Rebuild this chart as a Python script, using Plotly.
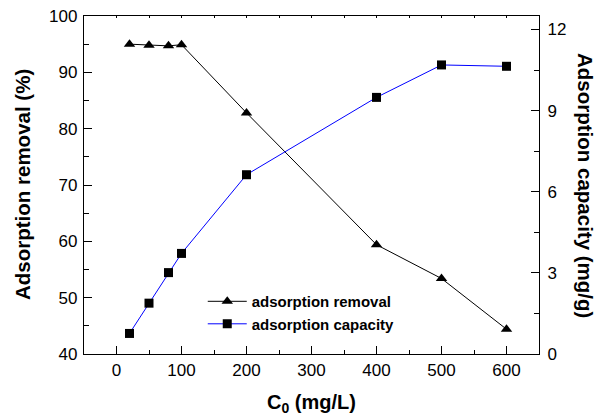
import plotly.graph_objects as go

c0 = [20, 50, 80, 100, 200, 400, 500, 600]
removal = [95.0, 94.8, 94.7, 94.9, 82.8, 59.4, 53.4, 44.4]
capacity = [0.76, 1.88, 3.01, 3.72, 6.63, 9.49, 10.69, 10.64]
x_ticks = [0, 100, 200, 300, 400, 500, 600]
y_ticks = [40, 50, 60, 70, 80, 90, 100]
y2_ticks = [0, 3, 6, 9, 12]

font = "Liberation Sans, Arial, sans-serif"

fig = go.Figure()
fig.add_trace(go.Scatter(x=c0, y=removal, name="adsorption removal", mode="lines+markers",
                         line=dict(color="black", width=1),
                         marker=dict(symbol="triangle-up", size=10, color="black")))
fig.add_trace(go.Scatter(x=c0, y=capacity, name="adsorption capacity", mode="lines+markers",
                         line=dict(color="blue", width=1), yaxis="y2",
                         marker=dict(symbol="square", size=9, color="black")))
# carrier for the top frame axis (draws nothing itself)
fig.add_trace(go.Scatter(x=c0, y=removal, xaxis="x2", mode="none", showlegend=False, hoverinfo="skip"))

axline = dict(showline=True, linecolor="black", linewidth=1.3, showgrid=False, zeroline=False,
              automargin=False)
fig.update_layout(
    width=597, height=410,
    margin=dict(l=76, r=66, t=8, b=64, autoexpand=False),
    plot_bgcolor="white", paper_bgcolor="white",
    font=dict(family=font, size=17, color="black"),
    showlegend=True,
    legend=dict(x=0.261, y=0.204, xanchor="left", yanchor="top", bgcolor="rgba(0,0,0,0)",
                font=dict(size=15, family=font, weight="bold"), tracegroupgap=0, itemwidth=39),
    xaxis=dict(range=[-50, 650], tickvals=x_ticks,
               ticks="inside", ticklen=8, tickwidth=1.2, tickcolor="black",
               minor=dict(dtick=50, tick0=-50, ticks="inside", ticklen=4, tickcolor="black", tickwidth=1.2),
               ticklabeloverflow="allow", **axline),
    xaxis2=dict(range=[-50, 650], overlaying="x", side="top", anchor="y", tickvals=[],
                showticklabels=False, ticks="inside", ticklen=2, tickcolor="black",
                minor=dict(dtick=50, tick0=-50, ticks="inside", ticklen=2, tickcolor="black"),
                **axline),
    yaxis=dict(range=[40, 100], tickvals=y_ticks,
               ticks="inside", ticklen=8, tickwidth=1.2, tickcolor="black",
               minor=dict(dtick=5, tick0=40, ticks="inside", ticklen=5, tickcolor="black", tickwidth=1.2),
               ticklabelstandoff=2, ticklabeloverflow="allow", **axline),
    yaxis2=dict(range=[0, 12.5], tickvals=y2_ticks, overlaying="y", side="right",
                ticks="inside", ticklen=8, tickwidth=1.2, tickcolor="black",
                minor=dict(dtick=1.5, tick0=0, ticks="inside", ticklen=5, tickcolor="black", tickwidth=1.2),
                ticklabelstandoff=4, ticklabeloverflow="allow", **axline),
)
fig.add_annotation(text="<b>Adsorption removal (%)</b>", xref="paper", yref="paper",
                   x=0, xshift=-62, y=0.5, xanchor="center", yanchor="middle",
                   textangle=-90, showarrow=False,
                   font=dict(size=20.5, family=font, color="black"))
fig.add_annotation(text="<b>Adsorption capacity (mg/g)</b>", xref="paper", yref="paper",
                   x=1.0, xshift=47, y=0.5, xanchor="center", yanchor="middle",
                   textangle=90, showarrow=False,
                   font=dict(size=20.5, family=font, color="black"))
fig.add_annotation(text="<b>C<sub>0</sub> (mg/L)</b>", xref="paper", yref="paper",
                   x=0.5, y=0, yshift=-49, yanchor="middle", showarrow=False,
                   font=dict(size=20, family=font, color="black"))
fig.write_html("out.html")
